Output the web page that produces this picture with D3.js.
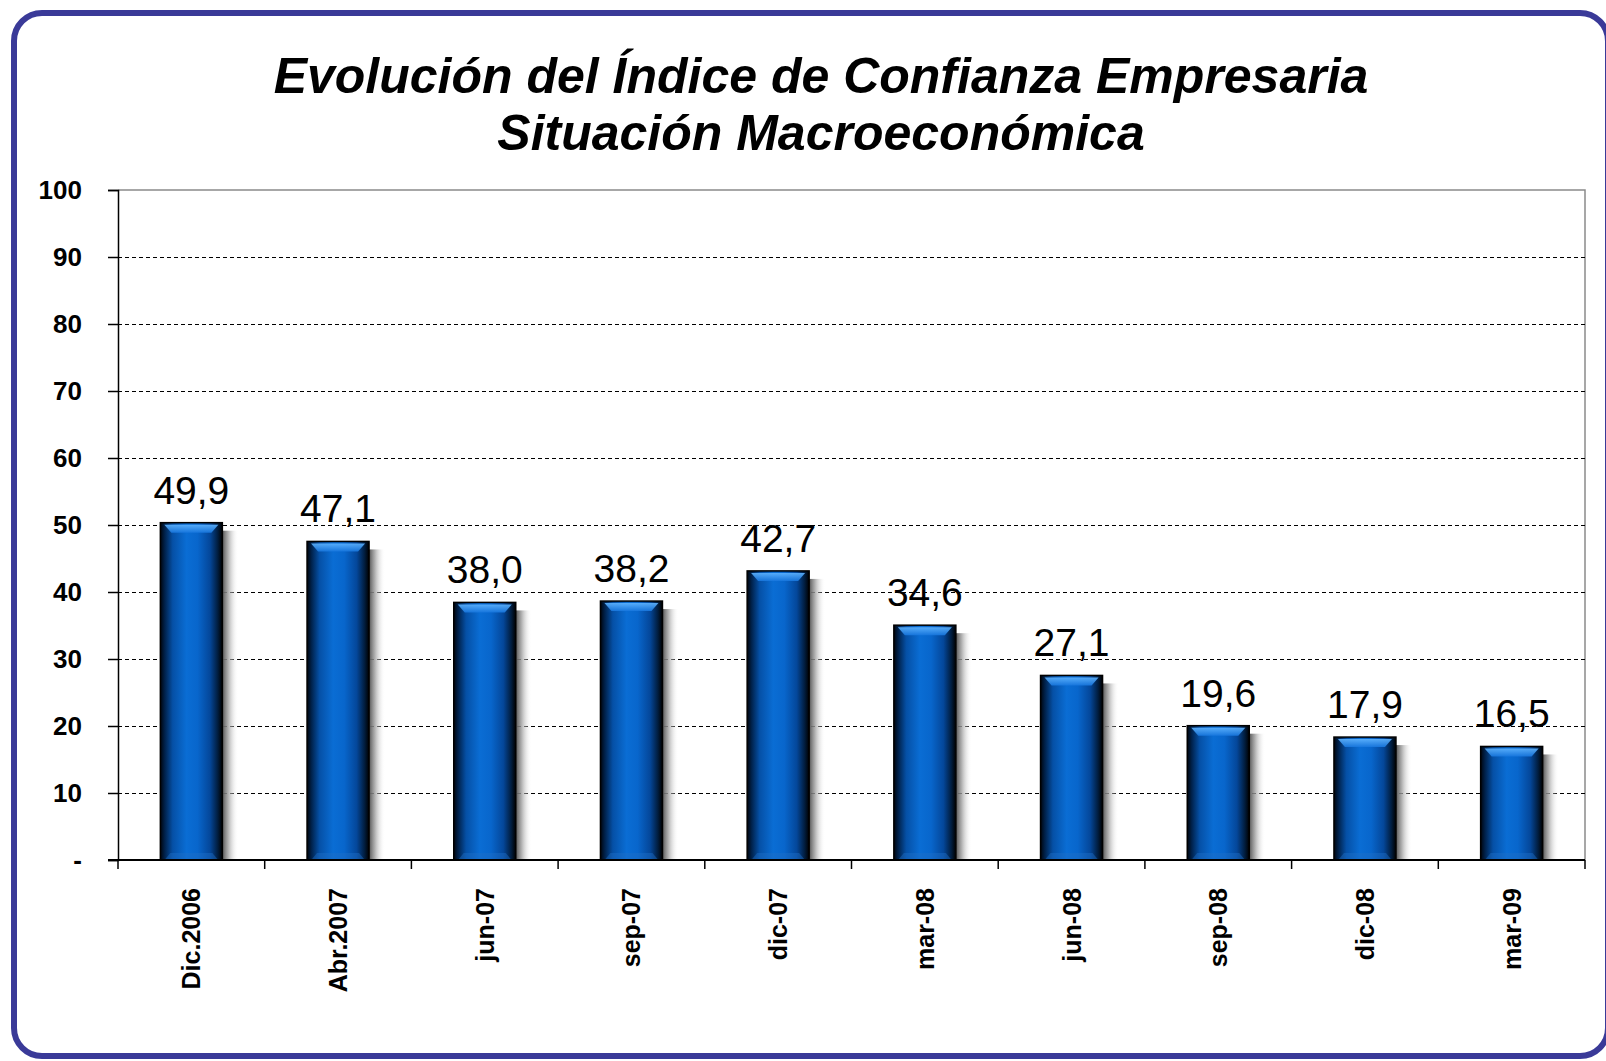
<!DOCTYPE html>
<html>
<head>
<meta charset="utf-8">
<script src="https://cdn.jsdelivr.net/npm/d3@7"></script>
<style>
  body { margin: 0; background: #fff; }
  svg { display: block; }
  text { font-family: Arial, 'Liberation Sans', sans-serif; fill: #000; }
</style>
</head>
<body>
<div id="chart"></div>
<script>
const categories = ['Dic.2006', 'Abr.2007', 'jun-07', 'sep-07', 'dic-07', 'mar-08', 'jun-08', 'sep-08', 'dic-08', 'mar-09'];
const values = [49.9, 47.1, 38.0, 38.2, 42.7, 34.6, 27.1, 19.6, 17.9, 16.5];
const yTicks = [0, 10, 20, 30, 40, 50, 60, 70, 80, 90, 100];
const titleLines = ['Evolución del Índice de Confianza Empresaria', 'Situación Macroeconómica'];

const width = 1606, height = 1061;
const plot = { left: 118, top: 190, right: 1585, bottom: 860 };

const svg = d3.select('#chart')
  .append('svg')
  .attr('width', width)
  .attr('height', height);

const defs = svg.append('defs');

const barGrad = defs.append('linearGradient')
  .attr('id', 'barGrad')
  .attr('x1', 0).attr('x2', 1).attr('y1', 0).attr('y2', 0);
[[0, '#00050d'], [0.07, '#00214a'], [0.2, '#0550a6'], [0.42, '#0a6dd4'], [0.6, '#0866cc'],
 [0.8, '#04479a'], [0.93, '#011c3c'], [1, '#000']]
  .forEach(([o, c]) => barGrad.append('stop').attr('offset', o).attr('stop-color', c));

const bevelGrad = defs.append('linearGradient')
  .attr('id', 'bevelGrad')
  .attr('x1', 0).attr('x2', 0).attr('y1', 0).attr('y2', 1);
[[0, '#5fb4ff'], [1, '#1877de']]
  .forEach(([o, c]) => bevelGrad.append('stop').attr('offset', o).attr('stop-color', c));

const shadowGrad = defs.append('linearGradient')
  .attr('id', 'shadowGrad')
  .attr('x1', 0).attr('x2', 1).attr('y1', 0).attr('y2', 0);
[[0, '#555555', 1], [0.35, '#999999', 0.8], [1, '#ffffff', 0]]
  .forEach(([o, c, op]) => shadowGrad.append('stop').attr('offset', o)
    .attr('stop-color', c).attr('stop-opacity', op));

// outer rounded frame
svg.append('rect')
  .attr('x', 14).attr('y', 13)
  .attr('width', 1594).attr('height', 1043)
  .attr('rx', 28).attr('ry', 28)
  .attr('fill', '#fff')
  .attr('stroke', '#3a3a98')
  .attr('stroke-width', 6);

// title
svg.append('g').selectAll('text')
  .data(titleLines)
  .enter()
  .append('text')
  .attr('x', 821)
  .attr('y', (d, i) => 93 + i * 57)
  .attr('text-anchor', 'middle')
  .style('font-size', '50px')
  .style('font-weight', 'bold')
  .style('font-style', 'italic')
  .text(d => d);

const x = d3.scaleBand()
  .domain(categories)
  .range([plot.left, plot.right])
  .paddingInner(0)
  .paddingOuter(0);

const y = d3.scaleLinear()
  .domain([0, 100])
  .range([plot.bottom, plot.top]);

// plot area border (top / right)
svg.append('path')
  .attr('d', `M${plot.left},${plot.top}H${plot.right}V${plot.bottom}`)
  .attr('fill', 'none')
  .attr('stroke', '#8a8a8a')
  .attr('stroke-width', 1.5);

// dashed gridlines
svg.append('g').selectAll('line')
  .data(yTicks.filter(t => t > 0 && t < 100))
  .enter()
  .append('line')
  .attr('x1', plot.left).attr('x2', plot.right)
  .attr('y1', d => Math.round(y(d)) + 0.5).attr('y2', d => Math.round(y(d)) + 0.5)
  .attr('stroke', '#000')
  .attr('stroke-width', 1)
  .attr('stroke-dasharray', '4,3');

// y axis
const yAxis = d3.axisLeft(y)
  .tickValues(yTicks)
  .tickSize(10)
  .tickPadding(26)
  .tickFormat(d => d === 0 ? '-' : d);

svg.append('g')
  .attr('transform', `translate(${plot.left},0)`)
  .call(yAxis)
  .call(g => g.select('.domain').attr('stroke', '#000').attr('stroke-width', 1.5))
  .call(g => g.selectAll('.tick line').attr('stroke', '#000').attr('stroke-width', 1.5))
  .call(g => g.selectAll('.tick text')
    .style('font-size', '26px')
    .style('font-weight', 'bold')
    .attr('fill', '#000'));

// bars
const barW = 62;
const bars = svg.append('g').selectAll('g')
  .data(categories.map((c, i) => ({ cat: c, val: values[i] })))
  .enter()
  .append('g')
  .attr('transform', d => `translate(${x(d.cat) + x.bandwidth() / 2 - barW / 2},0)`);

bars.append('rect')
  .attr('x', barW)
  .attr('y', d => y(d.val) + 5)
  .attr('width', 16)
  .attr('height', d => plot.bottom - y(d.val) - 5)
  .attr('fill', 'url(#shadowGrad)');

bars.append('rect')
  .attr('x', 0)
  .attr('y', d => y(d.val) - 3)
  .attr('width', barW)
  .attr('height', d => plot.bottom - y(d.val) + 3)
  .attr('fill', 'url(#barGrad)')
  .attr('stroke', '#000')
  .attr('stroke-width', 1.5);

bars.append('path')
  .attr('d', d => {
    const t = y(d.val) - 1;
    return `M4,${t}H${barW - 4}L${barW - 11},${t + 8}H11Z`;
  })
  .attr('fill', 'url(#bevelGrad)')
  .attr('opacity', 0.9);

bars.append('path')
  .attr('d', `M5,${plot.bottom - 1}H${barW - 5}L${barW - 10},${plot.bottom - 7}H10Z`)
  .attr('fill', '#1f6fc8')
  .attr('opacity', 0.45);

// value labels
bars.append('text')
  .attr('x', barW / 2)
  .attr('y', d => y(d.val) - 22)
  .attr('text-anchor', 'middle')
  .style('font-size', '39px')
  .text(d => d3.format('.1f')(d.val).replace('.', ','));

// x axis line and ticks at band edges
svg.append('line')
  .attr('x1', plot.left - 10).attr('x2', plot.right)
  .attr('y1', plot.bottom).attr('y2', plot.bottom)
  .attr('stroke', '#000').attr('stroke-width', 2);

const edges = categories.map(c => x(c)).concat([plot.right]);
svg.append('g').selectAll('line')
  .data(edges)
  .enter()
  .append('line')
  .attr('x1', d => d).attr('x2', d => d)
  .attr('y1', plot.bottom).attr('y2', plot.bottom + 9)
  .attr('stroke', '#000').attr('stroke-width', 1.5);

// category labels, rotated
svg.append('g').selectAll('text')
  .data(categories)
  .enter()
  .append('text')
  .attr('transform', d => `translate(${x(d) + x.bandwidth() / 2},888) rotate(-90)`)
  .attr('text-anchor', 'end')
  .attr('dy', '0.36em')
  .style('font-size', '25px')
  .style('font-weight', 'bold')
  .text(d => d);
</script>
</body>
</html>
